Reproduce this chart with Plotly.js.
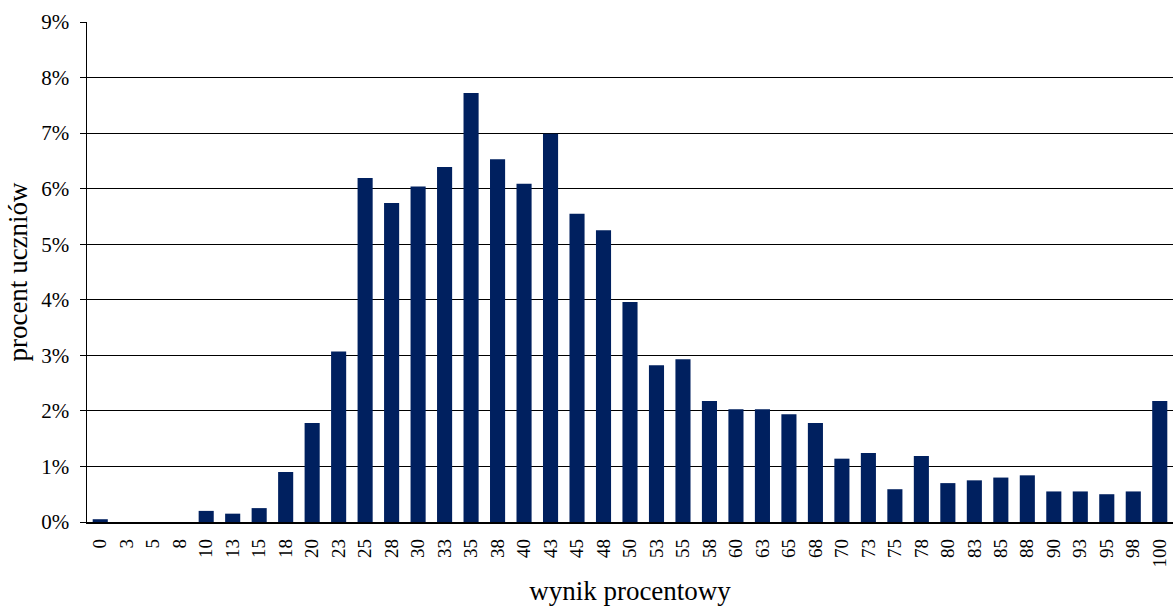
<!DOCTYPE html>
<html>
<head>
<meta charset="utf-8">
<script src="https://cdn.plot.ly/plotly-3.0.1.min.js"></script>
<style>html,body{margin:0;padding:0;background:#fff;}#chart{width:1173px;height:606px;}</style>
</head>
<body>
<div id="chart"></div>
<script>
const categories = ["0","3","5","8","10","13","15","18","20","23","25","28","30","33","35","38","40","43","45","48","50","53","55","58","60","63","65","68","70","73","75","78","80","83","85","88","90","93","95","98","100"];
const percentStudents = [0.05,0,0,0,0.2,0.15,0.25,0.9,1.78,3.07,6.19,5.74,6.04,6.39,7.72,6.53,6.09,6.99,5.55,5.25,3.96,2.82,2.93,2.18,2.03,2.03,1.94,1.78,1.14,1.24,0.59,1.19,0.70,0.75,0.80,0.84,0.55,0.55,0.50,0.55,2.18];
const yTickValues = [0,1,2,3,4,5,6,7,8,9];
const yTickLabels = yTickValues.map(v => v + "%");

const serif = "Liberation Serif, Times New Roman, serif";

Plotly.newPlot("chart", [{
  type: "bar",
  x: categories,
  y: percentStudents,
  marker: {color: "#00205f", line: {width: 0}},
  hoverinfo: "x+y"
}], {
  width: 1173, height: 606,
  margin: {l: 87, r: 0, t: 22, b: 84, pad: 0},
  paper_bgcolor: "#fff", plot_bgcolor: "#fff",
  bargap: 0.43,
  showlegend: false,
  font: {family: serif, color: "#000", size: 20},
  xaxis: {
    type: "category",
    tickangle: -90,
    tickfont: {family: serif, size: 19, color: "#000"},
    ticklabelstandoff: 8,
    showline: true, linecolor: "#000", linewidth: 1.5,
    ticks: "", showgrid: false,
    title: {text: "wynik procentowy", font: {family: serif, size: 27, color: "#000"}, standoff: 14},
    automargin: false
  },
  yaxis: {
    range: [0, 9],
    tickvals: yTickValues, ticktext: yTickLabels,
    tickfont: {family: serif, size: 21, color: "#000"},
    ticklabelstandoff: 6,
    showline: true, linecolor: "#000", linewidth: 1.5,
    ticks: "outside", ticklen: 6, tickcolor: "#000",
    showgrid: true, gridcolor: "#000", gridwidth: 1,
    zeroline: false,
    title: {text: "procent uczniów", font: {family: serif, size: 27, color: "#000"}, standoff: 6},
    automargin: false
  }
}, {displayModeBar: false, staticPlot: true});
</script>
</body>
</html>
